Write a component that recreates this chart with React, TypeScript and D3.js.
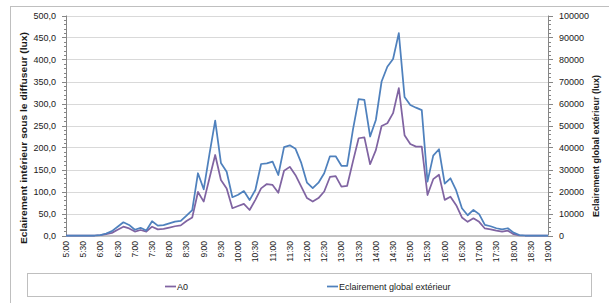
import { useEffect, useRef } from 'react';
import * as d3 from 'd3';

// mesures toutes les 10 minutes, 5:00 -> 19:00
const times = [
  '5:00', '5:10', '5:20', '5:30', '5:40', '5:50',
  '6:00', '6:10', '6:20', '6:30', '6:40', '6:50',
  '7:00', '7:10', '7:20', '7:30', '7:40', '7:50',
  '8:00', '8:10', '8:20', '8:30', '8:40', '8:50',
  '9:00', '9:10', '9:20', '9:30', '9:40', '9:50',
  '10:00', '10:10', '10:20', '10:30', '10:40', '10:50',
  '11:00', '11:10', '11:20', '11:30', '11:40', '11:50',
  '12:00', '12:10', '12:20', '12:30', '12:40', '12:50',
  '13:00', '13:10', '13:20', '13:30', '13:40', '13:50',
  '14:00', '14:10', '14:20', '14:30', '14:40', '14:50',
  '15:00', '15:10', '15:20', '15:30', '15:40', '15:50',
  '16:00', '16:10', '16:20', '16:30', '16:40', '16:50',
  '17:00', '17:10', '17:20', '17:30', '17:40', '17:50',
  '18:00', '18:10', '18:20', '18:30', '18:40', '18:50',
  '19:00',
];

// Eclairement intérieur sous le diffuseur (lux) - axe gauche
const a0 = [
  0, 0, 0, 0, 0, 0,
  1, 3, 6, 13, 20, 16,
  9, 12.5, 9, 20, 14, 15,
  18, 21, 23, 33, 41, 99,
  77, 130, 183, 126, 107, 62,
  67, 72, 58, 81, 107, 117,
  115, 97, 147, 156, 137, 111,
  85, 77, 85, 100, 133, 135,
  111, 113, 168, 221, 223, 162,
  194, 249, 255, 278, 335, 228,
  208, 202, 202, 92, 128, 138,
  81, 88, 69, 41, 31, 39,
  31, 16, 14, 11, 9, 11,
  3, 0.5, 0, 0, 0, 0,
  0,
];

// Eclairement global extérieur (lux) - axe droit
const ext = [
  0, 0, 0, 0, 0, 0,
  200, 900, 2000, 4000, 6000, 4800,
  2600, 3500, 2300, 6500, 4500, 4700,
  5500, 6300, 6600, 9000, 11500, 28300,
  21000, 37000, 52200, 33000, 29000, 17400,
  18500, 20200, 16100, 20700, 32500, 32800,
  33600, 27500, 40200, 41000, 39400, 33000,
  24000, 21500, 24000, 28300, 36000, 36000,
  31700, 31700, 48000, 62000, 61600, 45000,
  52500, 70000, 76700, 80200, 92000, 63000,
  59300, 58100, 57000, 24500, 36300, 39200,
  23600, 26000, 20500, 12400, 9200, 11600,
  9700, 4800, 4200, 3300, 2800, 3300,
  1300, 200, 0, 0, 0, 0,
  0,
];

const leftTicks = [0, 50, 100, 150, 200, 250, 300, 350, 400, 450, 500];
const rightTicks = [0, 10000, 20000, 30000, 40000, 50000, 60000, 70000, 80000, 90000, 100000];

const W = 609;
const H = 303;
const FONT = "'Liberation Sans', Arial, sans-serif";

const Chart = () => {
  const ref = useRef<SVGSVGElement>(null);

  useEffect(() => {
    const svg = d3.select(ref.current);
    svg.selectAll('*').remove();

    const left = 66;
    const right = 548;
    const top = 15.5;
    const bottom = 235.5;

    const x = d3.scalePoint<string>().domain(times).range([left, right]);
    const yL = d3.scaleLinear().domain([0, 500]).range([bottom, top]);
    const yR = d3.scaleLinear().domain([0, 100000]).range([bottom, top]);

    // cadre du graphique
    svg
      .append('rect')
      .attr('x', 10.5)
      .attr('y', 6.5)
      .attr('width', 640)
      .attr('height', 340)
      .attr('fill', '#fff')
      .attr('stroke', '#BFBFBF');

    // grille
    svg
      .append('g')
      .selectAll('line')
      .data(leftTicks.slice(1))
      .enter()
      .append('line')
      .attr('x1', left)
      .attr('x2', right)
      .attr('y1', (d) => Math.round(yL(d)) + 0.5)
      .attr('y2', (d) => Math.round(yL(d)) + 0.5)
      .attr('stroke', '#D9D9D9');

    // axe gauche
    const gl = svg.append('g');
    gl.append('line')
      .attr('x1', left + 0.5)
      .attr('x2', left + 0.5)
      .attr('y1', top)
      .attr('y2', bottom)
      .attr('stroke', '#868686');
    gl.selectAll('line.minor')
      .data(d3.range(0, 501, 10))
      .enter()
      .append('line')
      .attr('class', 'minor')
      .attr('x1', (d) => (d % 50 === 0 ? left - 4 : left - 2))
      .attr('x2', left)
      .attr('y1', (d) => Math.round(yL(d)) + 0.5)
      .attr('y2', (d) => Math.round(yL(d)) + 0.5)
      .attr('stroke', '#868686');
    gl.selectAll('text')
      .data(leftTicks)
      .enter()
      .append('text')
      .attr('x', 56)
      .attr('y', (d) => yL(d))
      .attr('dy', '0.35em')
      .attr('text-anchor', 'end')
      .attr('font-family', FONT)
      .attr('font-size', 9)
      .attr('fill', '#1a1a1a')
      .text((d) => d.toFixed(1).replace('.', ','));

    // axe droit
    const gr = svg.append('g');
    gr.append('line')
      .attr('x1', right + 0.5)
      .attr('x2', right + 0.5)
      .attr('y1', top)
      .attr('y2', bottom)
      .attr('stroke', '#868686');
    gr.selectAll('line.minor')
      .data(d3.range(0, 100001, 2000))
      .enter()
      .append('line')
      .attr('class', 'minor')
      .attr('x1', right)
      .attr('x2', (d) => (d % 10000 === 0 ? right + 5 : right + 3))
      .attr('y1', (d) => Math.round(yR(d)) + 0.5)
      .attr('y2', (d) => Math.round(yR(d)) + 0.5)
      .attr('stroke', '#868686');
    gr.selectAll('text')
      .data(rightTicks)
      .enter()
      .append('text')
      .attr('x', 559)
      .attr('y', (d) => yR(d))
      .attr('dy', '0.35em')
      .attr('text-anchor', 'start')
      .attr('font-family', FONT)
      .attr('font-size', 9)
      .attr('fill', '#1a1a1a')
      .text((d) => String(d));

    // axe des x
    const gx = svg.append('g');
    gx.append('line')
      .attr('x1', left)
      .attr('x2', right)
      .attr('y1', bottom + 0.5)
      .attr('y2', bottom + 0.5)
      .attr('stroke', '#868686');
    const labelled = times.filter((_, i) => i % 3 === 0);
    gx.selectAll('text')
      .data(labelled)
      .enter()
      .append('text')
      .attr('transform', (d) => `translate(${x(d)},241) rotate(-90)`)
      .attr('dy', '0.35em')
      .attr('text-anchor', 'end')
      .attr('font-family', FONT)
      .attr('font-size', 8.5)
      .attr('fill', '#1a1a1a')
      .text((d) => d);

    // titres des axes
    svg
      .append('text')
      .attr('transform', 'translate(24,138) rotate(-90)')
      .attr('dy', '0.35em')
      .attr('text-anchor', 'middle')
      .attr('font-family', FONT)
      .attr('font-weight', 'bold')
      .attr('font-size', 8.5)
      .attr('textLength', 212)
      .attr('lengthAdjust', 'spacingAndGlyphs')
      .attr('fill', '#1a1a1a')
      .text('Eclairement intérieur sous le diffuseur (lux)');

    svg
      .append('text')
      .attr('transform', 'translate(596,146) rotate(-90)')
      .attr('dy', '0.35em')
      .attr('text-anchor', 'middle')
      .attr('font-family', FONT)
      .attr('font-weight', 'bold')
      .attr('font-size', 8.5)
      .attr('textLength', 142)
      .attr('lengthAdjust', 'spacingAndGlyphs')
      .attr('fill', '#1a1a1a')
      .text('Eclairement global extérieur (lux)');

    // courbes
    const lineA0 = d3
      .line<number>()
      .x((_, i) => x(times[i]) as number)
      .y((d) => yL(d));
    const lineExt = d3
      .line<number>()
      .x((_, i) => x(times[i]) as number)
      .y((d) => yR(d));

    svg
      .append('path')
      .datum(a0)
      .attr('d', lineA0)
      .attr('fill', 'none')
      .attr('stroke', '#8064A2')
      .attr('stroke-width', 1.75)
      .attr('stroke-linejoin', 'round');

    svg
      .append('path')
      .datum(ext)
      .attr('d', lineExt)
      .attr('fill', 'none')
      .attr('stroke', '#4F81BD')
      .attr('stroke-width', 1.75)
      .attr('stroke-linejoin', 'round');

    // légende
    const lg = svg.append('g');
    lg.append('rect')
      .attr('x', 27.5)
      .attr('y', 273.5)
      .attr('width', 564)
      .attr('height', 23)
      .attr('fill', '#fff')
      .attr('stroke', '#BFBFBF');
    const items = [
      { label: 'A0', color: '#8064A2', x: 165 },
      { label: 'Eclairement global extérieur', color: '#4F81BD', x: 327 },
    ];
    items.forEach((it) => {
      lg.append('line')
        .attr('x1', it.x)
        .attr('x2', it.x + 11)
        .attr('y1', 286.5)
        .attr('y2', 286.5)
        .attr('stroke', it.color)
        .attr('stroke-width', 1.75);
      lg.append('text')
        .attr('x', it.x + 12)
        .attr('y', 286.5)
        .attr('dy', '0.35em')
        .attr('font-family', FONT)
        .attr('font-size', 9)
        .attr('fill', '#1a1a1a')
        .text(it.label);
    });
  }, []);

  return <svg ref={ref} width={W} height={H} style={{ position: 'absolute', left: 0, top: 0, display: 'block' }}></svg>;
};

export default function App() {
  return <Chart />;
}
